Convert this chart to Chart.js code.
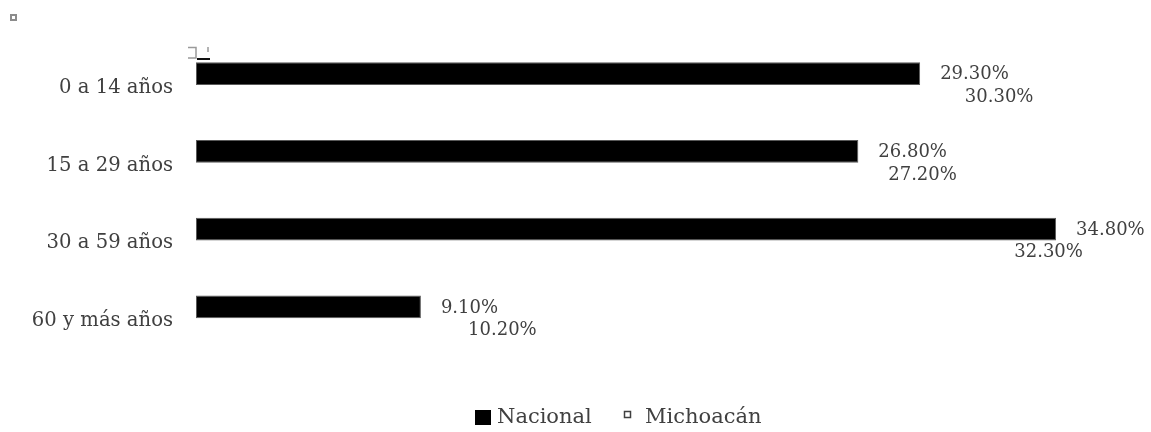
<!DOCTYPE html>
<html>
<head>
<meta charset="utf-8">
<script src="https://cdn.jsdelivr.net/npm/chart.js@4/dist/chart.umd.min.js"></script>
<style>
  html, body { margin: 0; padding: 0; background: #ffffff; }
  #wrap { width: 1151px; height: 432px; }
</style>
</head>
<body>
<div id="wrap"><canvas id="chart" width="1151" height="432"></canvas></div>
<script>
// Population share by age group
const categories = ['0 a 14 años', '15 a 29 años', '30 a 59 años', '60 y más años'];
const nacional = [29.3, 26.8, 34.8, 9.1];
const michoacan = [30.3, 27.2, 32.3, 10.2];
const seriesNames = ['Nacional', 'Michoacán'];

const FONT = '"DejaVu Serif", "Liberation Serif", serif';
const TEXT = '#404040';

// Value labels placed just past the end of every bar
const valueLabels = {
  id: 'valueLabels',
  afterDatasetsDraw(chart) {
    const ctx = chart.ctx;
    ctx.save();
    ctx.font = '18px ' + FONT;
    ctx.fillStyle = TEXT;
    ctx.textAlign = 'left';
    ctx.textBaseline = 'middle';
    chart.data.datasets.forEach((ds, di) => {
      const meta = chart.getDatasetMeta(di);
      meta.data.forEach((bar, i) => {
        ctx.fillText(ds.data[i].toFixed(2) + '%', bar.x + 20, bar.y + 1);
      });
    });
    ctx.restore();
  }
};

// Legend row under the plot, plus the small stray marks around the plot
const bottomLegend = {
  id: 'bottomLegend',
  afterDraw(chart) {
    const ctx = chart.ctx;
    ctx.save();
    ctx.font = '21px ' + FONT;
    ctx.textBaseline = 'middle';
    ctx.textAlign = 'left';
    // Nacional: solid square
    ctx.fillStyle = '#000000';
    ctx.fillRect(475, 410, 16, 15);
    ctx.fillStyle = TEXT;
    ctx.fillText(seriesNames[0], 497, 418);
    // Michoacán: small hollow square
    ctx.strokeStyle = '#404040';
    ctx.lineWidth = 1.5;
    ctx.strokeRect(624.5, 411.5, 6, 6);
    ctx.fillText(seriesNames[1], 645, 418);
    // small hollow marker in the top-left corner
    ctx.strokeStyle = '#8c8c8c';
    ctx.lineWidth = 2;
    ctx.strokeRect(11, 15, 5, 5);
    // bracket-like mark above the first bar
    const a = chart.chartArea;
    ctx.strokeStyle = '#9a9a9a';
    ctx.lineWidth = 1.5;
    ctx.beginPath();
    ctx.moveTo(a.left - 8, a.top + 1.5);
    ctx.lineTo(a.left, a.top + 1.5);
    ctx.lineTo(a.left, a.top + 12);
    ctx.lineTo(a.left - 8, a.top + 12);
    ctx.moveTo(a.left + 12, a.top + 1);
    ctx.lineTo(a.left + 12, a.top + 6);
    ctx.stroke();
    ctx.fillStyle = '#111111';
    ctx.fillRect(a.left + 1, a.top + 12, 13, 2);
    ctx.restore();
  }
};

new Chart(document.getElementById('chart'), {
  type: 'bar',
  data: {
    labels: categories,
    datasets: [
      {
        label: seriesNames[0],
        data: nacional,
        backgroundColor: '#000000',
        borderColor: '#595959',
        borderWidth: 1,
        borderSkipped: false
      },
      {
        label: seriesNames[1],
        data: michoacan,
        backgroundColor: '#ffffff',
        borderColor: '#ffffff',
        borderWidth: 0
      }
    ]
  },
  options: {
    indexAxis: 'y',
    responsive: false,
    animation: false,
    devicePixelRatio: 1,
    categoryPercentage: 0.58,
    barPercentage: 1,
    layout: { padding: { left: 0, right: 90, top: 46, bottom: 75 } },
    plugins: {
      legend: { display: false },
      tooltip: { enabled: false }
    },
    scales: {
      x: {
        display: false,
        min: 0,
        max: 35
      },
      y: {
        grid: { display: false, drawTicks: false },
        border: { display: false },
        afterFit(scale) { scale.width = 196; },
        ticks: {
          padding: 23,
          labelOffset: 3,
          color: TEXT,
          font: { family: FONT, size: 19.6 }
        }
      }
    }
  },
  plugins: [valueLabels, bottomLegend]
});
</script>
</body>
</html>
